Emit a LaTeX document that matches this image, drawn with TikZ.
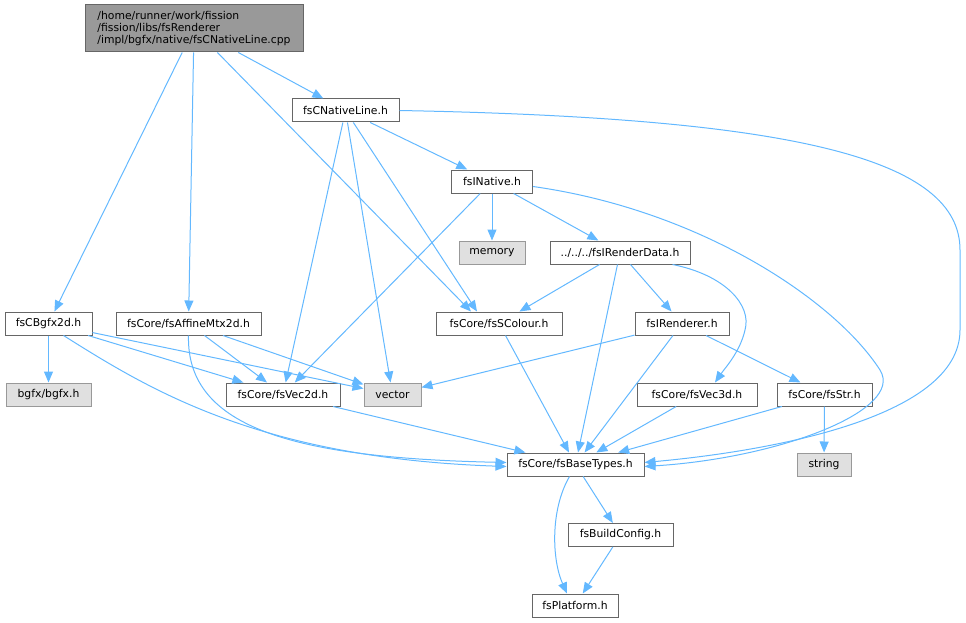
\documentclass[tikz,border=0pt]{standalone}
\usepackage{fontspec}
\setmainfont{DejaVu Sans}
\usetikzlibrary{arrows.meta}
\definecolor{edgeblue}{HTML}{63B8FF}
\definecolor{boxline}{HTML}{666666}
\definecolor{sysline}{HTML}{999999}
\definecolor{sysfill}{HTML}{E0E0E0}
\definecolor{rootfill}{HTML}{999999}
\tikzstyle{file}=[draw=boxline,fill=white,line width=1pt,minimum height=23pt,inner sep=0pt,font=\fontsize{10.8}{12.4}\selectfont]
\tikzstyle{sysfile}=[file,draw=sysline,fill=sysfill]
\tikzstyle{mainfile}=[file,fill=rootfill,align=left]
\tikzstyle{link}=[draw=edgeblue,line width=1pt,-{Triangle[length=11pt,width=9pt]}]

\begin{document}
\begin{tikzpicture}[x=1pt,y=-1pt]
    \useasboundingbox (0,0) rectangle (966,623);
    % First we draw the files
    \node[mainfile,minimum width=218pt,minimum height=47pt] (root) at (194,28.5)
        {/home/runner/work/fission\\/fission/libs/fsRenderer\\/impl/bgfx/native/fsCNativeLine.cpp};
    \node[file,minimum width=107pt] (nativeline) at (345.5,110.5) {fsCNativeLine.h};
    \node[file,minimum width=81pt] (inative) at (492,181.5) {fsINative.h};
    \node[sysfile,minimum width=66pt] (memory) at (492,252.5) {memory};
    \node[file,minimum width=140pt] (renderdata) at (620,252.5) {../../../fsIRenderData.h};
    \node[file,minimum width=87pt] (bgfxtwod) at (48.5,323.5) {fsCBgfx2d.h};
    \node[file,minimum width=145pt] (affine) at (188.5,323.5) {fsCore/fsAffineMtx2d.h};
    \node[file,minimum width=126pt] (scolour) at (499,323.5) {fsCore/fsSColour.h};
    \node[file,minimum width=94pt] (irenderer) at (682,323.5) {fsIRenderer.h};
    \node[sysfile,minimum width=85pt] (bgfx) at (48.5,394.5) {bgfx/bgfx.h};
    \node[file,minimum width=114pt] (vectwod) at (283,394.5) {fsCore/fsVec2d.h};
    \node[sysfile,minimum width=57pt] (vector) at (392.5,394.5) {vector};
    \node[file,minimum width=120pt] (vecthreed) at (697,394.5) {fsCore/fsVec3d.h};
    \node[file,minimum width=95pt] (fsstr) at (824.5,394.5) {fsCore/fsStr.h};
    \node[file,minimum width=137pt] (basetypes) at (575.5,464.5) {fsCore/fsBaseTypes.h};
    \node[sysfile,minimum width=54pt] (string) at (824,464.5) {string};
    \node[file,minimum width=105pt] (buildconfig) at (620.5,535) {fsBuildConfig.h};
    \node[file,minimum width=86pt] (platform) at (575,605.5) {fsPlatform.h};
    % Connect files with includes
    \foreach \source/\dest in {root/bgfxtwod, root/affine, root/nativeline,
        nativeline/inative, nativeline/vectwod, nativeline/vector,
        inative/memory, inative/renderdata, inative/vectwod,
        renderdata/scolour, renderdata/basetypes, renderdata/irenderer,
        bgfxtwod/bgfx, bgfxtwod/vectwod, bgfxtwod/vector,
        affine/vectwod, affine/vector, scolour/basetypes,
        irenderer/vector, irenderer/basetypes, irenderer/fsstr,
        vectwod/basetypes, vecthreed/basetypes, fsstr/basetypes, fsstr/string,
        basetypes/buildconfig, buildconfig/platform}
        \path[link] (\source) -- (\dest);
    \path[link] (root) -- ([xshift=-28pt]scolour.north);
    \path[link] (nativeline) -- ([xshift=-22pt]scolour.north);
    % the bent ones
    \path[link] (nativeline.east) .. controls (800,118) and (960,160) .. (960,250)
        -- (960,330) .. controls (960,420) and (760,452) .. ([yshift=2pt]basetypes.east);
    \path[link] ([yshift=-5pt]inative.east) .. controls (700,210) and (835,300) .. (880,370)
        .. controls (905,410) and (780,458) .. ([yshift=-2pt]basetypes.east);
    \path[link] ([xshift=-18pt]renderdata.south east) .. controls (725,275) and (752,305) .. (745,330)
        .. controls (740,352) and (725,368) .. ([xshift=18pt]vecthreed.north);
    \path[link] (affine.south) .. controls (186,430) and (300,458) .. ([yshift=2pt]basetypes.west);
    \path[link] ([xshift=15pt]bgfxtwod.south) .. controls (150,390) and (260,458) .. ([yshift=-2pt]basetypes.west);
    \path[link] ([xshift=-6pt]basetypes.south) .. controls (550,510) and (552,560) .. ([xshift=-8pt]platform.north);
\end{tikzpicture}
\end{document}
